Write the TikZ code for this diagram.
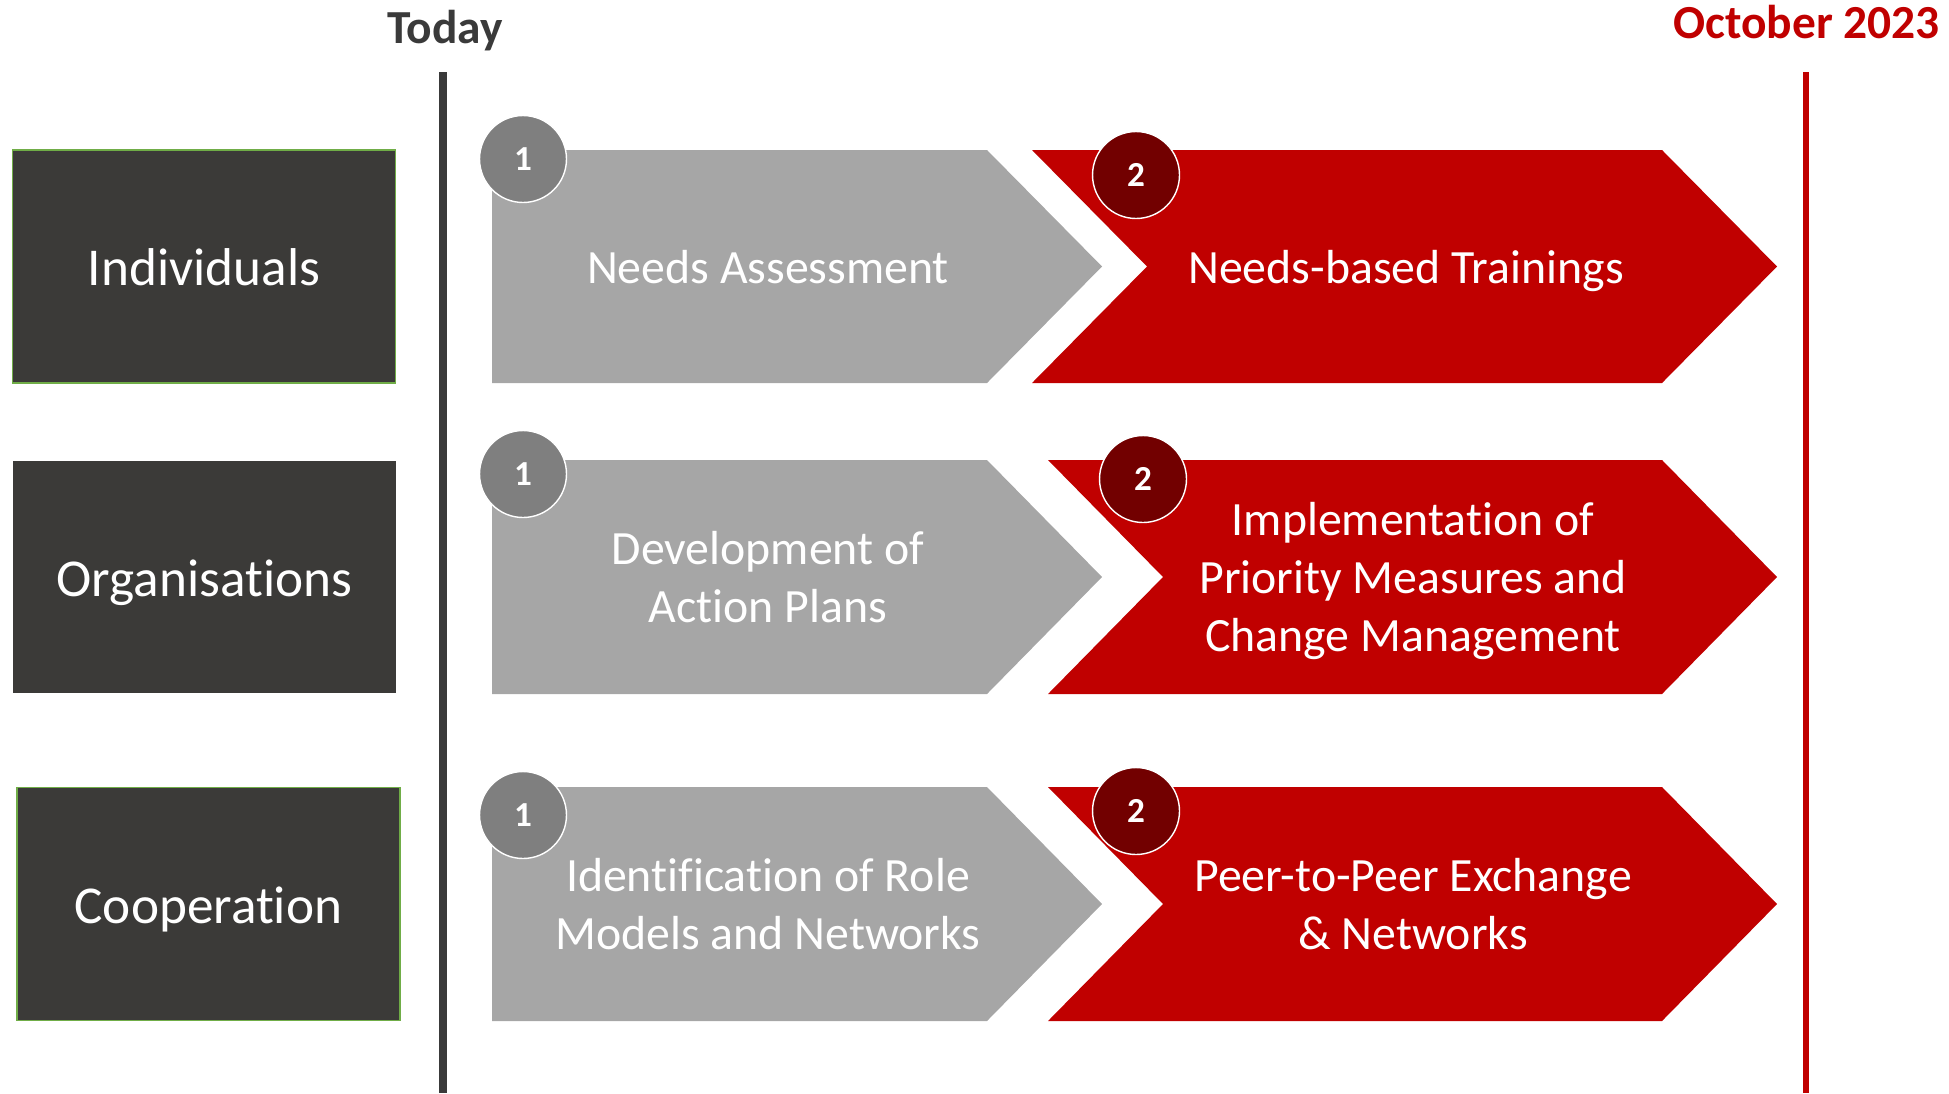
\documentclass[tikz,border=0pt]{standalone}
\usepackage{fontspec}
\setmainfont{Carlito}[Ligatures=NoCommon]
\usepackage{xcolor}
\usepackage{tikz}
\usetikzlibrary{positioning, calc}

\definecolor{boxdark}{HTML}{3B3A38}
\definecolor{linedark}{HTML}{3A3A3A}
\definecolor{leafgreen}{HTML}{70AD47}
\definecolor{stepgray}{HTML}{A6A6A6}
\definecolor{dotgray}{HTML}{7F7F7F}
\definecolor{stepred}{HTML}{C00000}
\definecolor{dotred}{HTML}{720000}

\begin{document}
\begin{tikzpicture}[
            x=0.02cm, y=-0.02cm,
            rowbox/.style={rectangle, fill=boxdark, draw=leafgreen, line width=0.8pt,
                           minimum width=7.66cm, minimum height=4.66cm,
                           text height=22pt, text depth=0pt,
                           text=white, font=\fontsize{30.3}{36}\selectfont},
            steptext/.style={align=center, text=white, text depth=0pt,
                             font=\fontsize{27.2}{33}\selectfont},
            graystep/.style={fill=stepgray},
            redstep/.style={fill=stepred},
            numdot/.style={circle, draw=white, line width=0.8pt, minimum size=1.74cm,
                           inner sep=0pt, text=white, font=\fontsize{20}{24}\selectfont\bfseries},
            datelabel/.style={font=\fontsize{27}{33}\selectfont\bfseries},
            timeline/.style={line width=4pt}
        ]
        \useasboundingbox (0,0) rectangle (1949,1093);

        % ===== TIME MARKERS =====
        \node[datelabel, text=linedark, anchor=base] (today) at (445,43) {Today};
        \node[datelabel, text=stepred, anchor=base east] (october) at (1946,38) {October 2023};
        \coordinate (todaytop) at (443,72);
        \coordinate (todaybot) at (443,1093);
        \coordinate (octtop) at (1806,72);
        \coordinate (octbot) at (1806,1093);
        \draw[timeline, linedark] (todaytop) -- (todaybot);
        \draw[timeline, stepred, line width=3.6pt] (octtop) -- (octbot);

        % ===== ROW LABELS =====
        \node[rowbox] (individuals) at (204,266.5) {Individuals};
        \node[rowbox, draw=none] (organisations) at (204.3,577) {Organisations};
        \node[rowbox] (cooperation) at (208.4,904) {Cooperation};

        % ===== INDIVIDUALS =====
        \fill[graystep] (492,150) -- (987,150) -- (1102,266.5) -- (987,383) -- (492,383) -- cycle;
        \fill[redstep] (1032,150) -- (1662,150) -- (1777,266.5) -- (1662,383) -- (1032,383) -- (1147,266.5) -- cycle;
        \node[steptext] (assess) at (768,266.5) {Needs Assessment};
        \node[steptext] (trainings) at (1406,266.5) {Needs-based Trainings};
        \node[numdot, fill=dotgray] (dot11) at (523,159) {1};
        \node[numdot, fill=dotred] (dot12) at (1136,175) {2};

        % ===== ORGANISATIONS =====
        \fill[graystep] (492,460) -- (987,460) -- (1102,577) -- (987,694) -- (492,694) -- cycle;
        \fill[redstep] (1048,460) -- (1662,460) -- (1777,577) -- (1662,694) -- (1048,694) -- (1163,577) -- cycle;
        \node[steptext] (plans) at (768,577) {Development of\\Action Plans};
        \node[steptext] (measures) at (1413,577) {Implementation of\\Priority Measures and\\Change Management};
        \node[numdot, fill=dotgray] (dot21) at (523,474) {1};
        \node[numdot, fill=dotred] (dot22) at (1143,479) {2};

        % ===== COOPERATION =====
        \fill[graystep] (492,787) -- (987,787) -- (1102,904) -- (987,1021) -- (492,1021) -- cycle;
        \fill[redstep] (1048,787) -- (1662,787) -- (1777,904) -- (1662,1021) -- (1048,1021) -- (1163,904) -- cycle;
        \node[steptext] (models) at (768,904) {Identification of Role\\Models and Networks};
        \node[steptext] (exchange) at (1413,904) {Peer-to-Peer Exchange\\\& Networks};
        \node[numdot, fill=dotgray] (dot31) at (523,815) {1};
        \node[numdot, fill=dotred] (dot32) at (1136,811) {2};

\end{tikzpicture}
\end{document}
